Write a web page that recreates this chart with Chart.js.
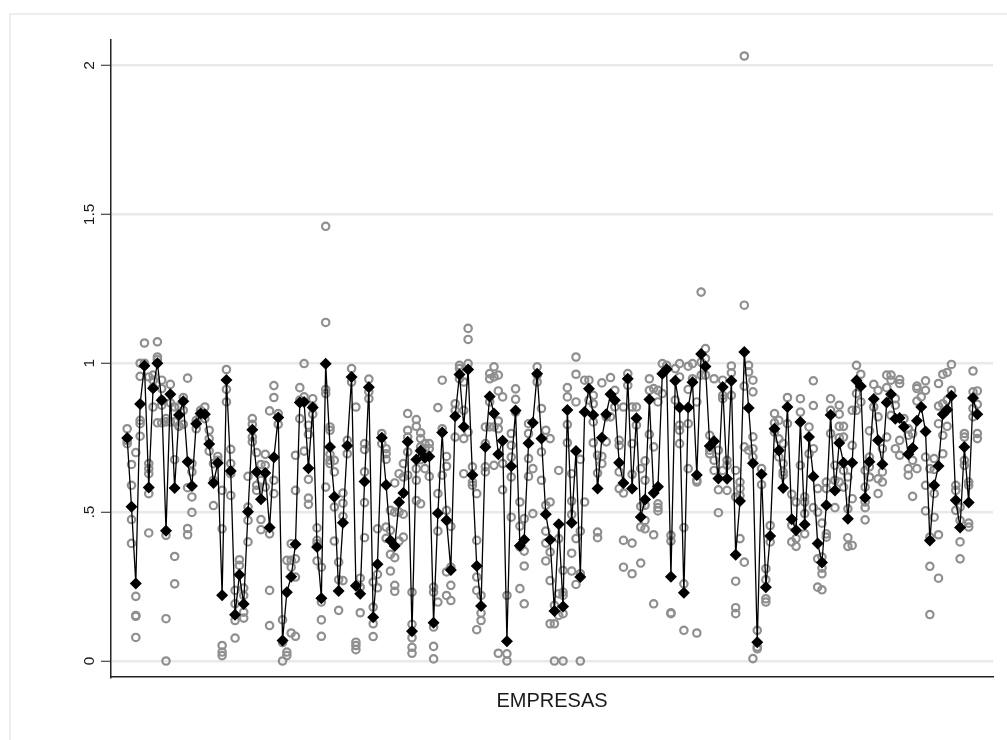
<!DOCTYPE html>
<html><head><meta charset="utf-8">
<style>
html,body{margin:0;padding:0;background:#fff;width:1007px;height:740px;overflow:hidden}
#frame{position:absolute;left:9px;top:13px;width:998px;height:727px;border-left:2px solid #eeeeee;border-top:2px solid #eeeeee;box-sizing:border-box}
canvas{position:absolute;left:0;top:0;display:block}
</style>
<script src="https://cdn.jsdelivr.net/npm/chart.js@4"></script>
</head><body><div id="frame"></div><canvas id="c" width="1007" height="740"></canvas>
<script>
const xTitle = "EMPRESAS";
const yTickValues = [0, 0.5, 1, 1.5, 2];
const yTickLabels = ["0", ".5", "1", "1.5", "2"];
const firmMeans = [.749,.518,.26,.863,.992,.583,.916,1.0,.876,.437,.896,.581,.826,.872,.669,.588,.797,.831,.829,.729,
.598,.665,.221,.944,.638,.155,.29,.191,.501,.777,.635,.543,.631,.448,.684,.818,.069,.231,.283,.392,
.868,.87,.647,.851,.383,.211,.998,.719,.552,.235,.464,.723,.954,.253,.226,.603,.919,.147,.325,.75,
.591,.405,.386,.533,.564,.736,.1,.677,.706,.683,.687,.128,.496,.767,.473,.306,.822,.962,.787,.979,
.625,.319,.185,.719,.888,.831,.694,.74,.066,.654,.841,.387,.407,.731,.8,.965,.747,.493,.407,.168,
.459,.183,.843,.464,.705,.282,.836,.914,.826,.579,.75,.829,.896,.876,.666,.598,.948,.579,.815,.484,
.542,.878,.564,.585,.965,.98,.283,.941,.851,.229,.851,.936,.625,1.031,.989,.722,.738,.613,.92,.612,
.941,.357,.537,1.038,.85,.664,.063,.627,.248,.42,.78,.707,.581,.853,.476,.439,.803,.458,.752,.62,
.395,.331,.523,.826,.573,.732,.666,.478,.666,.942,.923,.548,.669,.88,.741,.661,.868,.896,.814,.816,
.787,.694,.715,.807,.853,.771,.405,.59,.655,.829,.844,.891,.54,.448,.719,.532,.883,.829];
const firmObservations = [
[.78,.74,.73],[.66,.59,.475,.395],[.70,.217,.153,.15,.079],[1.0,.956,.808,.797,.755],[1.068,1.0,.993],
[.954,.663,.646,.629,.562,.43],[.96,.943,.918,.853],[1.072,1.021,1.012,.80],[.943,.915,.876,.859,.8],[.814,.803,.422,.142,0],
[.929,.867,.803],[.853,.803,.676,.351,.259],[.853,.788,.79],[.885,.842,.795],[.95,.582,.445,.424],
[.663,.635,.551,.499],[.808,.78],[.842,.825],[.853,.814],[.775,.747,.705],
[.663,.607,.522],[.687,.674],[.573,.444,.052,.03,.018],[.979,.912,.87],[.711,.663,.629,.556],
[.237,.192,.136,.077],[.34,.321],[.245,.22,.164,.144],[.62,.517,.472,.4],[.814,.795,.752,.736],
[.70,.59,.573],[.66,.607,.475,.441],[.694,.657,.584],[.84,.427,.237,.119],[.925,.885,.607,.562],
[.831,.795],[.138,.062,0],[.338,.03,.018],[.394,.338,.315,.094],[.691,.573,.343,.282,.083],
[.918,.876,.814],[.999,.887,.705],[.792,.761,.61,.547,.526],[.881,.853,.829],[.447,.405,.394,.336],
[.315,.198,.138,.083],[1.46,1.137,.912,.898,.584],[.786,.775,.694,.674,.663],[.674,.635,.517,.403],[.332,.273,.17],
[.564,.53,.486,.27],[.741,.696],[.982,.937],[.853,.063,.052,.038],[.278,.248,.162],
[.73,.71,.635,.532,.414],[.947,.904,.881],[.265,.181,.125,.082],[.444,.291,.246],[.764,.73],
[.713,.696,.677,.45,.412],[.506,.439,.358,.302],[.598,.5,.347,.254,.234],[.629,.5,.403],[.663,.618,.493,.416],
[.831,.775,.752,.702,.624],[.231,.123,.078,.046,.026],[.811,.788,.646,.607,.539],[.766,.747,.719,.676,.528],[.73,.713,.646],
[.73,.713,.62],[.248,.231,.114,.049,.007],[.851,.562,.436,.198],[.943,.78,.624],[.687,.654,.506,.299,.22],
[.452,.315,.254,.203],[.864,.842,.752],[.993,.982,.948],[.937,.842,.747,.629],[1.117,1.08,.999,.769],
[.652,.601,.59],[.562,.405,.282,.237,.105],[.22,.161,.136],[.786,.73,.652,.635],[.965,.948,.87,.786],
[.988,.954,.786,.657],[.96,.907,.806,.78,.026],[.887,.663,.575],[.22,.024,0],[.764,.724,.685,.618,.483],
[.914,.879,.836],[.534,.453,.383,.243],[.478,.369,.319,.192],[.797,.764,.68,.62],[.646,.495],
[.988,.96,.937],[.848,.702,.607],[.775,.523,.436,.396,.336],[.747,.534,.366,.27,.125],[.187,.125,0],
[.64,.411,.226,.153],[.304,.231,.22,.159,0],[.918,.887,.794,.733],[.629,.537,.492,.362,.302],[1.021,.963,.87,.411,.257],
[.677,.436,.293,0],[.943,.534],[.943,.876],[.892,.864,.803,.733],[.691,.631,.433,.414],
[.934,.687,.663],[.82,.736],[.952,.82],[.909,.853],[.741,.724,.635,.579],
[.853,.564,.405,.315],[.965,.926],[.853,.73,.627,.396,.293],[.853,.792],[.646,.519,.45,.329],
[.672,.607,.523,.472,.444],[.948,.909,.761],[.915,.719,.424,.192],[.909,.87,.528,.515,.504],[.999,.898],
[.993],[.422,.403,.162,.159],[.982,.876],[.999,.954,.792,.775,.73],[.448,.259,.103],
[.99,.912,.797,.646],[.999,.948],[.87,.607,.601,.094],[1.239,1.004,.96],[1.049,1.016,.96],
[.758,.708,.696],[.948,.674,.64],[.708,.575,.498],[.943,.892,.881,.64],[.674,.657,.573],
[.991,.968,.892],[.64,.551,.268,.179,.159],[.601,.579,.556,.411],[2.032,1.195,.923,.719,.332],[.993,.971,.708],
[.943,.904,.753,.713,.685,.008],[.103,.047,.041],[.646,.592],[.31,.273,.209,.198],[.455,.4],
[.831,.8,.769],[.808,.746,.685],[.73,.663,.635,.624],[.885,.797],[.56,.455,.4],
[.534,.411,.385],[.881,.836,.657],[.551,.534,.495,.427],[.786,.696],[.941,.858,.713,.515],
[.579,.5,.343,.248],[.463,.349,.312,.293,.239],[.601,.579,.427,.416],[.881,.842,.764],[.657,.607,.515],
[.859,.829,.788,.75,.601],[.788,.752,.64,.584],[.618,.511,.414,.385],[.842,.724,.545,.388],[.993,.898,.842],
[.963,.87],[.64,.584,.534,.515,.474],[.773,.685,.652,.618],[.929,.853],[.909,.82,.612,.562],
[.713,.635,.601],[.96,.918,.752],[.96,.943,.825],[.881,.859,.713],[.945,.932,.741,.691],
[.814],[.78,.758,.646,.624],[.764,.674,.553],[.923,.915,.873,.646],[.887],
[.941,.909,.685,.59,.504],[.646,.416,.318,.156],[.68,.643,.562,.483],[.932,.856,.797,.424,.278],[.963,.864,.758,.696],
[.969,.876,.788],[.996,.909],[.59,.573,.506],[.517,.472,.4,.343],[.764,.752,.674,.657],
[.601,.59,.463,.45],[.974,.904,.848,.82],[.907,.862,.764,.747]];

const meanPoints = firmMeans.map((v, i) => ({x: i, y: v}));
const obsPoints = firmObservations.flatMap((list, i) => list.map(v => ({x: i, y: v})));

new Chart(document.getElementById('c'), {
  type: 'scatter',
  data: { datasets: [
    { label: 'media', data: meanPoints, showLine: true, order: 1,
      borderColor: '#000', borderWidth: 1.3, backgroundColor: '#000',
      pointStyle: 'rectRot', pointRadius: 6, pointBackgroundColor: '#000', pointBorderColor: '#000', pointBorderWidth: 0 },
    { label: 'obs', data: obsPoints, showLine: false, order: 2,
      pointStyle: 'circle', pointRadius: 3.7, pointBackgroundColor: 'rgba(0,0,0,0)',
      pointBorderColor: '#8f8f8f', pointBorderWidth: 2.2 }
  ]},
  options: {
    responsive: false, animation: false, devicePixelRatio: 1,
    layout: { padding: { top: 40, right: 14, bottom: 3, left: 0 } },
    plugins: { legend: { display: false }, tooltip: { enabled: false }, title: { display: false } },
    scales: {
      x: { type: 'linear', min: -3.75, max: 200.63, afterFit: s => { s.height = 60; },
        grid: { display: false, drawTicks: false },
        border: { display: true, color: '#222', width: 1.5 },
        ticks: { display: false },
        title: { display: true, text: xTitle, color: '#1a1a1a', padding: { top: 0, bottom: 24 },
          font: { family: '"Liberation Sans", Arial, sans-serif', size: 20 } } },
      y: { type: 'linear', min: -0.0538, max: 2.0857,
        afterBuildTicks: s => { s.ticks = yTickValues.map(v => ({value: v})); },
        afterFit: s => { s.width = 111; },
        grid: { color: '#e9e9e9', lineWidth: 2.5, tickColor: '#222', tickWidth: 1, tickLength: 10, drawTicks: true },
        border: { display: true, color: '#222', width: 1.5 },
        ticks: { minRotation: 90, maxRotation: 90, crossAlign: 'center', padding: 1, autoSkip: false, color: '#1a1a1a',
          callback: v => yTickLabels[yTickValues.indexOf(v)],
          font: { family: '"Liberation Sans", Arial, sans-serif', size: 15.5 } } }
    }
  }
});
</script></body></html>
